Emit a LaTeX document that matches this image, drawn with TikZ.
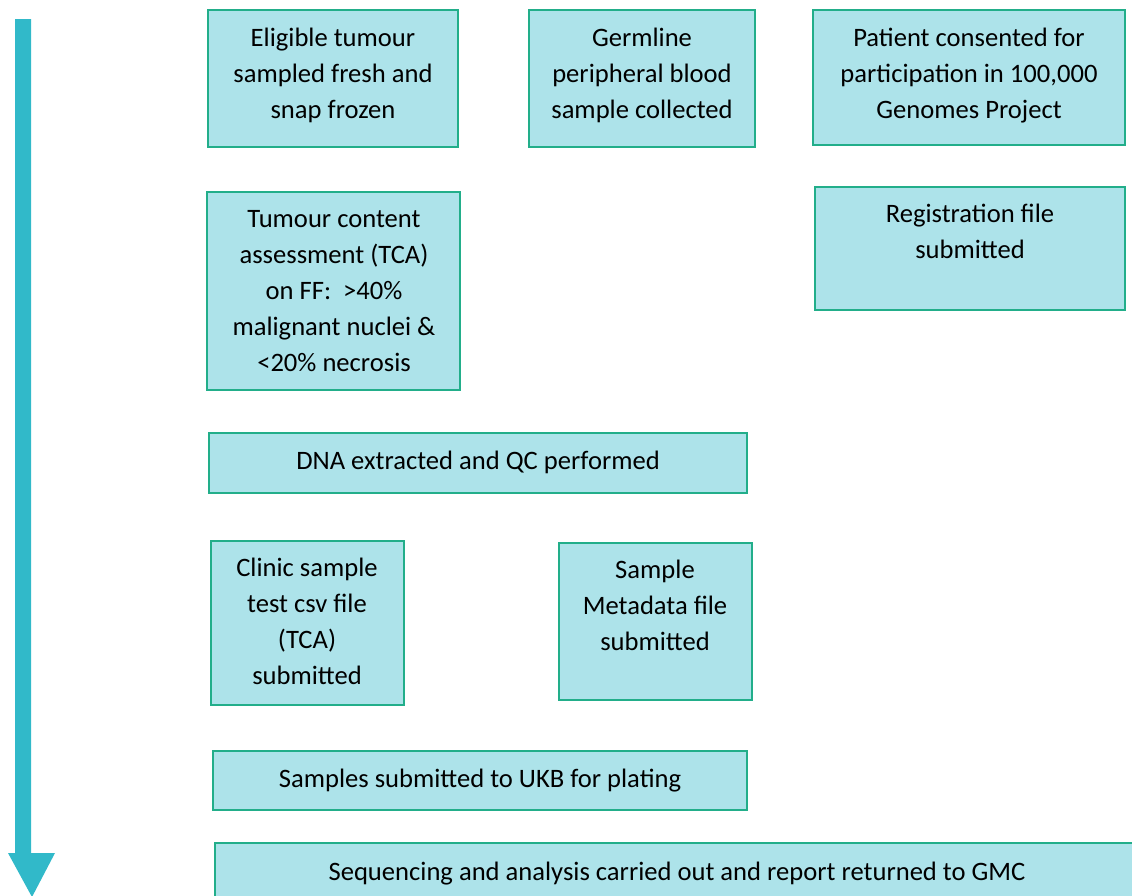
\documentclass[tikz,border=0pt]{standalone}
\usepackage{fontspec}
\setmainfont{Carlito}
\definecolor{boxfill}{HTML}{ADE3EA}
\definecolor{boxline}{HTML}{22AE8A}
\definecolor{arrowcol}{HTML}{31B9C9}
\tikzset{
  stepbox/.style={draw=boxline, line width=1.6pt, fill=boxfill, inner sep=0pt},
  steptext/.style={align=center, inner sep=0pt, font=\fontsize{26.6}{36}\selectfont,
    execute at begin node={\strut}, execute at end node={\strut}, yshift=-5pt}
}
\newcommand{\mybox}[5]{% name, x1, y1, x2, y2
  \path[stepbox] (#2,#3) rectangle (#4,#5);
  \coordinate (#1) at ({(#2+#4)/2},{(#3+#5)/2});
}
\begin{document}
\begin{tikzpicture}[x=1pt,y=-1pt]
\useasboundingbox (0,0) rectangle (1132,895);
\clip (0,0) rectangle (1132,895);
% arrow
\fill[arrowcol] (15,19) -- (31,19) -- (31,853) -- (55,853) -- (32,897) -- (8,853) -- (15,853) -- cycle;
% boxes
\mybox{b1}{208}{10}{458}{147}
\mybox{b2}{529}{10}{755}{147}
\mybox{b3}{813}{10}{1125}{145}
\mybox{b4}{815}{187}{1125}{310}
\mybox{b5}{207}{192}{460}{390}
\mybox{b6}{209}{433}{747}{493}
\mybox{b7}{211}{541}{404}{705}
\mybox{b8}{559}{543}{752}{700}
\mybox{b9}{213}{751}{747}{810}
\mybox{b10}{215}{843}{1145}{910}
% texts
\node[steptext] (t1) at (333,74) {Eligible tumour\\sampled fresh and\\snap frozen};
\node[steptext] (t2) at (642,74) {Germline\\peripheral blood\\sample collected};
\node[steptext] (t3) at (969,74) {Patient consented for\\participation in 100,000\\Genomes Project};
\node[steptext] (t4) at (970,232) {Registration file\\submitted};
\node[steptext] (t5) at (334,291) {Tumour content\\assessment (TCA)\\on FF:\ \ {>}40\%\\malignant nuclei \&\\{<}20\% necrosis};
\node[steptext] (t6) at (478,457) {DNA extracted and QC performed};
\node[steptext] (t7) at (307,622) {Clinic sample\\test csv file\\(TCA)\\submitted};
\node[steptext] (t8) at (655,606) {Sample\\Metadata file\\submitted};
\node[steptext] (t9) at (480,775) {Samples submitted to UKB for plating};
\node[steptext] (t10) at (677,868) {Sequencing and analysis carried out and report returned to GMC};
\end{tikzpicture}
\end{document}
